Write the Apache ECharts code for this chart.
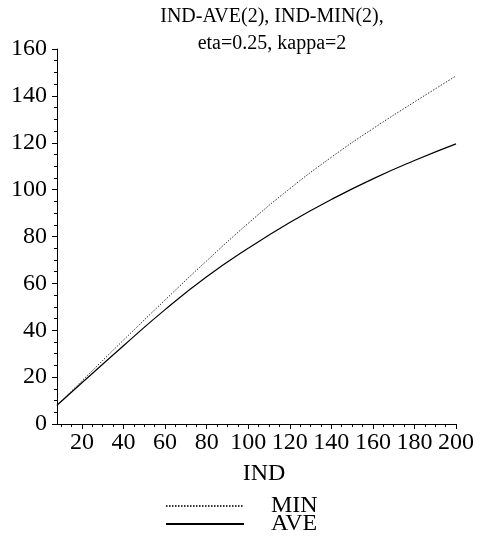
<!DOCTYPE html>
<html>
<head>
<meta charset="utf-8">
<script src="https://cdn.jsdelivr.net/npm/echarts@6/dist/echarts.min.js"></script>
<style>
  html, body { margin: 0; padding: 0; background: #fff; }
  #main { width: 481px; height: 538px; }
</style>
</head>
<body>
<div id="main"></div>
<script>
// 数据
var indValues = [8, 20, 40, 60, 80, 100, 120, 140, 160, 180, 200];
var minValues = [8, 18.4, 35.8, 52.9, 69.6, 85.6, 100.4, 113.8, 126, 137.4, 148.5];
var aveValues = [8, 17.6, 33.4, 48.8, 62.8, 75, 86, 95.8, 104.6, 112.4, 119.5];
var xMajorTicks = [20, 40, 60, 80, 100, 120, 140, 160, 180, 200];
var xMinorTicks = [10, 15, 25, 30, 35, 45, 50, 55, 65, 70, 75, 85, 90, 95, 105, 110, 115,
	125, 130, 135, 145, 150, 155, 165, 170, 175, 185, 190, 195];

var serif = "'Liberation Serif', 'Times New Roman', serif";

function pairs(xs, ys) {
	return xs.map(function(x, i) { return [x, ys[i]]; });
}

// 图例（每项单独一个，避免换列）
function legendFor(name, top) {
	return {
		orient: 'vertical',
		left: 165,
		top: top,
		padding: 0,
		itemWidth: 78,
		itemHeight: 10,
		data: [name],
		itemStyle: { opacity: 0 },
		textStyle: {
			fontFamily: serif,
			fontSize: 24,
			color: '#000',
			padding: [0, 0, 0, 22]
		}
	};
}

var chart = echarts.init(document.getElementById('main'));

var option = {
	animation: false,
	backgroundColor: '#fff',
	title: {
		text: 'IND-AVE(2), IND-MIN(2),\neta=0.25, kappa=2',
		left: 267,
		top: -2,
		textAlign: 'center',
		textStyle: {
			fontFamily: serif,
			fontSize: 20,
			fontWeight: 'normal',
			color: '#000',
			lineHeight: 27,
			align: 'center'
		}
	},
	legend: [legendFor('MIN', 494), legendFor('AVE', 512)],
	grid: {
		left: 57,
		right: 25,
		top: 49,
		bottom: 114,
		containLabel: false
	},
	xAxis: [{
		type: 'value',
		min: 8,
		max: 200,
		name: 'IND',
		nameLocation: 'middle',
		nameGap: 38,
		nameTextStyle: {
			fontFamily: serif,
			fontSize: 24,
			color: '#000',
			padding: [0, 0, 0, 15]
		},
		axisLine: { show: true, onZero: false, lineStyle: { color: '#000', width: 1 } },
		axisTick: { show: true, customValues: xMajorTicks, length: 5, lineStyle: { color: '#000' } },
		axisLabel: {
			customValues: xMajorTicks,
			margin: 7,
			fontFamily: serif,
			fontSize: 24,
			color: '#000'
		},
		splitLine: { show: false }
	}, {
		// 次刻度
		type: 'value',
		position: 'bottom',
		min: 8,
		max: 200,
		axisLine: { show: false },
		axisTick: { show: true, customValues: xMinorTicks, length: 3, lineStyle: { color: '#000' } },
		axisLabel: { show: false },
		splitLine: { show: false }
	}],
	yAxis: {
		type: 'value',
		min: 0,
		max: 160,
		interval: 20,
		axisLine: { show: true, onZero: false, lineStyle: { color: '#000', width: 1 } },
		axisTick: { show: true, length: 5, lineStyle: { color: '#000' } },
		minorTick: { show: true, splitNumber: 4, length: 3, lineStyle: { color: '#000' } },
		axisLabel: {
			margin: 10,
			fontFamily: serif,
			fontSize: 24,
			color: '#000'
		},
		splitLine: { show: false }
	},
	series: [{
		name: 'MIN',
		type: 'line',
		data: pairs(indValues, minValues),
		smooth: true,
		symbol: 'none',
		lineStyle: { color: '#333', width: 1, type: [1.5, 1.5] },
		itemStyle: { color: '#333' }
	}, {
		name: 'AVE',
		type: 'line',
		data: pairs(indValues, aveValues),
		smooth: true,
		symbol: 'none',
		lineStyle: { color: '#000', width: 1.2, type: 'solid' },
		itemStyle: { color: '#000' }
	}]
};

chart.setOption(option);
</script>
</body>
</html>
